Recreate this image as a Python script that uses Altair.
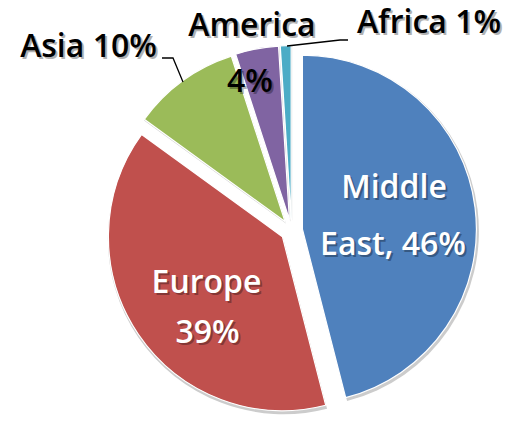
import altair as alt
import pandas as pd

# ---- data ----
regions = ["Middle East", "Europe", "Asia", "America", "Africa"]
shares = [46, 39, 10, 4, 1]
colors = ["#4F81BD", "#C0504D", "#9BBB59", "#8064A2", "#4BACC6"]

label_lines = ["Middle", "East, 46%", "Europe", "39%", "Asia 10%", "America", "4%", "Africa 1%"]
label_colors = ["white", "white", "white", "white", "black", "black", "black", "black"]

# ---- layout (pixels relative to pie centre) ----
CX, CY = 283.5, 222.5
R = 174
EXPLODE = 11
FONT = "Open Sans"
FSIZE = 32

label_dx = [102.5, 101.5, -85, -84, -203, -39.5, -41.5, 137.5]
label_dy = [-32.5, 24.5, 62.5, 112.5, -173.5, -194.5, -138.5, -197.5]

leader_id = ["asia", "asia", "asia", "africa", "africa", "africa"]
leader_pt = [0, 1, 2, 0, 1, 2]
leader_dx = [-129.5, -118.5, -108.5, -4.5, 48.5, 56.5]
leader_dy = [-172.5, -172.5, -148.5, -184.5, -190.5, -190.5]

pie_df = pd.DataFrame({"region": regions, "share": shares, "order": range(len(regions))})
lab_df = pd.DataFrame({"label": label_lines, "tcolor": label_colors, "dx": label_dx, "dy": label_dy})
lead_df = pd.DataFrame({"lid": leader_id, "pt": leader_pt, "dx": leader_dx, "dy": leader_dy})

color_scale = alt.Scale(domain=regions, range=colors)

base = (
    alt.Chart(pie_df)
    .transform_joinaggregate(total="sum(share)")
    .transform_window(cum="sum(share)", sort=[alt.SortField("order")])
    .transform_calculate(
        t0="2*PI*(datum.cum - datum.share)/datum.total",
        t1="2*PI*datum.cum/datum.total",
    )
    .transform_calculate(mid="(datum.t0 + datum.t1)/2")
    .transform_calculate(
        cx=f"{CX} + {EXPLODE}*sin(datum.mid)",
        cy=f"{CY} - {EXPLODE}*cos(datum.mid)",
    )
    .transform_calculate(sx="datum.cx + 1", sy="datum.cy + 2")
)

shadow = base.mark_arc(outerRadius=R + 1.5, color="#cccccc").encode(
    x=alt.X("sx:Q", scale=None),
    y=alt.Y("sy:Q", scale=None),
    theta=alt.Theta("t0:Q", scale=None),
    theta2="t1:Q",
)

arcs = base.mark_arc(outerRadius=R, stroke="white", strokeWidth=1.2).encode(
    x=alt.X("cx:Q", scale=None),
    y=alt.Y("cy:Q", scale=None),
    theta=alt.Theta("t0:Q", scale=None),
    theta2="t1:Q",
    color=alt.Color("region:N", scale=color_scale, legend=None),
)

leaders = (
    alt.Chart(lead_df)
    .transform_calculate(px=f"{CX} + datum.dx", py=f"{CY} + datum.dy")
    .mark_line(color="black", strokeWidth=1.3)
    .encode(
        x=alt.X("px:Q", scale=None),
        y=alt.Y("py:Q", scale=None),
        detail="lid:N",
        order="pt:Q",
    )
)

lab_base = alt.Chart(lab_df).transform_calculate(
    px=f"{CX} + datum.dx", py=f"{CY} + datum.dy"
).transform_calculate(spx="datum.px + 2", spy="datum.py + 2")

text_shadow = lab_base.mark_text(
    font=FONT, fontSize=FSIZE, fontWeight=600, align="center", baseline="alphabetic",
    color="black", opacity=0.3,
).encode(
    x=alt.X("spx:Q", scale=None),
    y=alt.Y("spy:Q", scale=None),
    text="label:N",
)

text = lab_base.mark_text(
    font=FONT, fontSize=FSIZE, fontWeight=600, align="center", baseline="alphabetic",
).encode(
    x=alt.X("px:Q", scale=None),
    y=alt.Y("py:Q", scale=None),
    text="label:N",
    color=alt.Color("tcolor:N", scale=None),
)

chart = (
    alt.layer(shadow, arcs, leaders, text_shadow, text)
    .properties(width=501, height=415, autosize=alt.AutoSizeParams(type="none"), padding=0,
                background="white")
    .configure_view(stroke=None)
)

chart.save("out.html", embed_options={"renderer": "svg", "actions": False})
